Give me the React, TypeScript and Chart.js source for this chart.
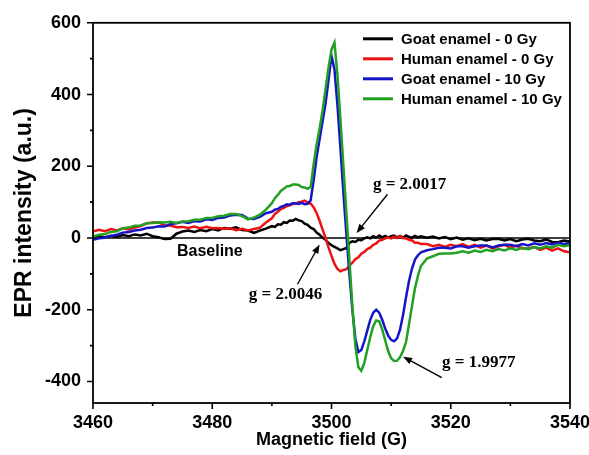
import React, { useEffect, useRef } from 'react';
import { Chart, registerables } from 'chart.js';

Chart.register(...registerables);

// Magnetic field (G)
const fieldG = [
  3460, 3461, 3462, 3463, 3464, 3465, 3466, 3467, 3468, 3469,
  3470, 3471, 3472, 3473, 3474, 3475, 3476, 3477, 3478, 3479,
  3480, 3481, 3482, 3483, 3484, 3485, 3486, 3487, 3488, 3489, 3490,
  3490.5, 3491, 3491.5, 3492, 3492.5, 3493, 3493.5, 3494, 3494.5, 3495,
  3495.5, 3496, 3496.5, 3497, 3497.5, 3498, 3498.5, 3499, 3499.5, 3500,
  3500.5, 3501, 3501.5, 3502, 3502.5, 3503, 3503.5, 3504, 3504.5, 3505,
  3505.5, 3506, 3506.5, 3507, 3507.5, 3508, 3508.5, 3509, 3509.5, 3510,
  3510.5, 3511, 3511.5, 3512, 3512.5, 3513, 3513.5, 3514, 3514.5, 3515,
  3516, 3517, 3518, 3519, 3520, 3521, 3522, 3523, 3524, 3525,
  3526, 3527, 3528, 3529, 3530, 3531, 3532, 3533, 3534, 3535,
  3536, 3537, 3538, 3539, 3540,
];

const goatEnamel0Gy = [
  0, 4, 2, 6, 3, 8, 5, 10, 7, 12,
  5, 2, -3, -2, 12, 18, 21, 17, 22, 19,
  25, 21, 28, 26, 30, 22, 21, 14, 21, 26, 33,
  31, 38, 37, 44, 42, 49, 48, 53, 49, 47,
  40, 37, 29, 25, 15, 9, 1, -5, -14, -20,
  -25, -29, -34, -31, -28, -14, -9, -11, -5, -6,
  -1, 2, -1, 5, 1, 7, 2, 6, 1, 5,
  7, 2, 6, 1, 7, 3, 1, 6, 2, 5,
  1, 4, -1, 3, -3, 1, -5, -1, -6, -2,
  -7, -3, -2, -7, -3, -9, -4, -2, -7, -9,
  -4, -11, -12, -7, -10,
];

const humanEnamel0Gy = [
  18, 23, 19, 25, 21, 27, 24, 29, 33, 41,
  43, 44, 35, 35, 30, 31, 28, 32, 27, 31,
  27, 28, 25, 27, 22, 26, 21, 25, 29, 43, 55,
  67, 73, 81, 84, 89, 91, 95, 96, 100, 101,
  104, 99, 96, 86, 70, 48, 24, 0, -26, -50,
  -72, -86, -93, -89, -87, -77, -69, -59, -54, -44,
  -39, -31, -27, -19, -15, -7, -5, -1, 1, -1,
  4, 0, 5, -1, -1, -5, -7, -13, -13, -17,
  -17, -23, -19, -25, -19, -23, -17, -25, -19, -27,
  -21, -29, -23, -19, -27, -21, -29, -29, -25, -33,
  -27, -35, -29, -37, -40,
];

const goatEnamel10Gy = [
  -5, -1, 1, 6, 9, 15, 17, 21, 23, 28,
  29, 33, 32, 39, 41, 45, 42, 47, 46, 52,
  50, 56, 57, 63, 65, 64, 54, 53, 59, 69, 73,
  79, 81, 87, 89, 94, 93, 97, 97, 95, 98,
  94, 95, 105, 160, 225, 275, 325, 375, 440, 508,
  470, 370, 250, 125, 10, -100, -200, -280, -318, -312,
  -288, -258, -228, -208, -200, -208, -228, -252, -272, -284,
  -288, -280, -255, -215, -165, -120, -85, -60, -48, -40,
  -34, -31, -27, -27, -29, -23, -23, -27, -23, -21,
  -21, -26, -21, -19, -19, -23, -17, -21, -15, -19,
  -14, -18, -13, -17, -14,
];

const humanEnamel10Gy = [
  4, 9, 11, 17, 19, 27, 29, 34, 35, 41,
  42, 44, 43, 45, 42, 46, 47, 51, 51, 56,
  56, 61, 62, 67, 67, 61, 52, 57, 65, 79, 97,
  111, 120, 131, 137, 144, 145, 149, 149, 148, 142,
  141, 137, 142, 205, 260, 305, 355, 415, 475, 525,
  545, 455, 330, 200, 70, -60, -190, -300, -360, -370,
  -348, -312, -276, -246, -230, -232, -255, -285, -315, -335,
  -343, -342, -332, -315, -290, -240, -190, -140, -105, -78,
  -57, -51, -44, -43, -43, -41, -37, -41, -35, -39,
  -33, -37, -31, -35, -29, -33, -27, -31, -25, -29,
  -23, -27, -19, -23, -20,
];

const seriesLabels = [
  'Goat enamel - 0 Gy',
  'Human enamel - 0 Gy',
  'Goat enamel - 10 Gy',
  'Human enamel - 10 Gy',
];
const seriesColors = ['#000000', '#ee1111', '#1515c8', '#22a022'];
const seriesValues = [goatEnamel0Gy, humanEnamel0Gy, goatEnamel10Gy, humanEnamel10Gy];

const xMajorTicks = [3460, 3480, 3500, 3520, 3540];
const xMinorTicks = [3470, 3490, 3510, 3530];
const yMajorTicks = [-400, -200, 0, 200, 400, 600];
const yMinorTicks = [-300, -100, 100, 300, 500];

const xTitle = 'Magnetic field (G)';
const yTitle = 'EPR intensity (a.u.)';

const baselineLabel = { text: 'Baseline', x: 3479.6, y: -38 };
const gLabels = [
  { text: 'g = 2.0017', x: 3513.1, y: 150, from: [3509.4, 122], to: [3504.2, 14] },
  { text: 'g = 2.0046', x: 3492.3, y: -157, from: [3494.3, -129], to: [3498, -18] },
  { text: 'g = 1.9977', x: 3524.7, y: -348, from: [3518.5, -389], to: [3512, -331] },
];

const SANS = '"Liberation Sans", Arial, sans-serif';
const SERIF = '"Liberation Serif", "Times New Roman", serif';

function drawArrow(ctx: CanvasRenderingContext2D, x1: number, y1: number, x2: number, y2: number) {
  const ang = Math.atan2(y2 - y1, x2 - x1);
  const headLen = 9;
  const headW = 3.5;
  ctx.beginPath();
  ctx.moveTo(x1, y1);
  ctx.lineTo(x2 - Math.cos(ang) * headLen * 0.8, y2 - Math.sin(ang) * headLen * 0.8);
  ctx.stroke();
  ctx.beginPath();
  ctx.moveTo(x2, y2);
  ctx.lineTo(
    x2 - Math.cos(ang) * headLen + Math.sin(ang) * headW,
    y2 - Math.sin(ang) * headLen - Math.cos(ang) * headW,
  );
  ctx.lineTo(
    x2 - Math.cos(ang) * headLen - Math.sin(ang) * headW,
    y2 - Math.sin(ang) * headLen + Math.cos(ang) * headW,
  );
  ctx.closePath();
  ctx.fill();
}

const decorPlugin = {
  id: 'decor',
  beforeDatasetsDraw(chart: any) {
    const { ctx, chartArea: a, scales } = chart;
    const y0 = scales.y.getPixelForValue(0);
    ctx.save();
    ctx.strokeStyle = '#000';
    ctx.lineWidth = 1.3;
    ctx.beginPath();
    ctx.moveTo(a.left, y0);
    ctx.lineTo(a.right, y0);
    ctx.stroke();
    ctx.restore();
  },
  afterDatasetsDraw(chart: any) {
    const { ctx, chartArea: a, scales } = chart;
    const xs = scales.x;
    const ys = scales.y;
    ctx.save();
    // frame
    ctx.strokeStyle = '#000';
    ctx.lineWidth = 1.8;
    ctx.strokeRect(a.left, a.top, a.right - a.left, a.bottom - a.top);
    // ticks
    ctx.lineWidth = 1.6;
    ctx.beginPath();
    xMajorTicks.forEach((v) => {
      const px = xs.getPixelForValue(v);
      ctx.moveTo(px, a.bottom);
      ctx.lineTo(px, a.bottom + 6);
    });
    xMinorTicks.forEach((v) => {
      const px = xs.getPixelForValue(v);
      ctx.moveTo(px, a.bottom);
      ctx.lineTo(px, a.bottom + 3);
    });
    yMajorTicks.forEach((v) => {
      const py = ys.getPixelForValue(v);
      ctx.moveTo(a.left, py);
      ctx.lineTo(a.left - 6, py);
    });
    yMinorTicks.forEach((v) => {
      const py = ys.getPixelForValue(v);
      ctx.moveTo(a.left, py);
      ctx.lineTo(a.left - 3, py);
    });
    ctx.stroke();

    // legend
    ctx.font = `bold 15px ${SANS}`;
    ctx.textAlign = 'left';
    ctx.textBaseline = 'middle';
    chart.data.datasets.forEach((ds: any, i: number) => {
      const ly = a.top + 16 + i * 20;
      ctx.strokeStyle = ds.borderColor;
      ctx.lineWidth = 3;
      ctx.beginPath();
      ctx.moveTo(a.right - 207, ly);
      ctx.lineTo(a.right - 177, ly);
      ctx.stroke();
      ctx.fillStyle = '#000';
      ctx.fillText(ds.label, a.right - 169, ly + 1);
    });

    // baseline label
    ctx.fillStyle = '#000';
    ctx.textAlign = 'center';
    ctx.font = `bold 16px ${SANS}`;
    ctx.fillText(baselineLabel.text, xs.getPixelForValue(baselineLabel.x), ys.getPixelForValue(baselineLabel.y));

    // g labels + arrows
    ctx.font = `bold 17px ${SERIF}`;
    ctx.strokeStyle = '#000';
    ctx.lineWidth = 1.4;
    gLabels.forEach((g) => {
      ctx.fillText(g.text, xs.getPixelForValue(g.x), ys.getPixelForValue(g.y));
      drawArrow(
        ctx,
        xs.getPixelForValue(g.from[0]), ys.getPixelForValue(g.from[1]),
        xs.getPixelForValue(g.to[0]), ys.getPixelForValue(g.to[1]),
      );
    });
    ctx.restore();
  },
};

export default function App() {
  const canvasRef = useRef<HTMLCanvasElement | null>(null);

  useEffect(() => {
    const canvas = canvasRef.current;
    if (!canvas) return;
    const datasets = seriesLabels.map((label, i) => ({
      label,
      data: fieldG.map((x, j) => ({ x, y: seriesValues[i][j] })),
      borderColor: seriesColors[i],
      backgroundColor: seriesColors[i],
      borderWidth: 2.5,
      pointRadius: 0,
      tension: 0,
      fill: false,
      order: seriesLabels.length - 1 - i,
    }));
    const chart = new Chart(canvas, {
      type: 'line',
      data: { datasets },
      plugins: [decorPlugin],
      options: {
        responsive: false,
        animation: false,
        devicePixelRatio: 1,
        layout: { padding: { top: 20, right: 19, left: 0, bottom: 0 } },
        plugins: { legend: { display: false }, tooltip: { enabled: false } },
        scales: {
          x: {
            type: 'linear',
            min: 3460,
            max: 3540,
            afterBuildTicks: (s: any) => { s.ticks = xMajorTicks.map((v) => ({ value: v })); },
            afterFit: (s: any) => { s.height = 52; s.paddingLeft = 0; s.paddingRight = 0; },
            grid: { display: false, drawTicks: false },
            border: { display: false },
            ticks: {
              autoSkip: false,
              maxRotation: 0,
              padding: 9,
              color: '#000',
              font: { family: SANS, weight: 'bold', size: 18 },
              callback: (v: any) => String(v),
            },
            title: {
              display: true,
              text: xTitle,
              color: '#000',
              font: { family: SANS, weight: 'bold', size: 18 },
              padding: { top: 0, bottom: 4 },
            },
          },
          y: {
            type: 'linear',
            min: -460,
            max: 600,
            afterBuildTicks: (s: any) => { s.ticks = yMajorTicks.map((v) => ({ value: v })); },
            afterFit: (s: any) => { s.width = 93; },
            grid: { display: false, drawTicks: false },
            border: { display: false },
            ticks: {
              autoSkip: false,
              padding: 12,
              color: '#000',
              font: { family: SANS, weight: 'bold', size: 18 },
              callback: (v: any) => String(v),
            },
            title: {
              display: true,
              text: yTitle,
              color: '#000',
              font: { family: SANS, weight: 'bold', size: 23 },
              padding: { top: 11, bottom: 0 },
            },
          },
        },
      },
    });
    return () => chart.destroy();
  }, []);

  return (
    <div style={{ position: 'fixed', left: 0, top: 0, width: 589, height: 455, background: '#fff' }}>
      <canvas ref={canvasRef} width={589} height={455} />
    </div>
  );
}
